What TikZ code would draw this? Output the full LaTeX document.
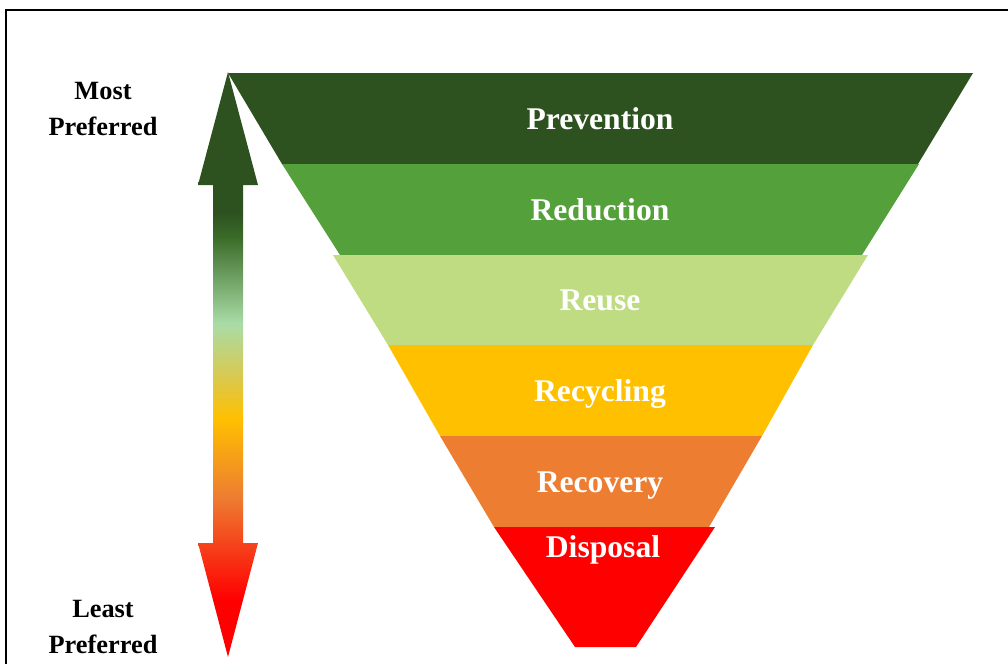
\documentclass[tikz,border=0pt]{standalone}
\usepackage{fontspec}
\setmainfont{Liberation Serif}
\definecolor{prevgreen}{HTML}{2D5220}
\definecolor{redgreen}{HTML}{54A03A}
\definecolor{reusegreen}{HTML}{BFDC83}
\definecolor{recyyellow}{HTML}{FFC000}
\definecolor{recoorange}{HTML}{ED7D31}
\definecolor{dispred}{HTML}{FF0000}
\definecolor{shaftgreen}{HTML}{3B6B28}
\definecolor{palegreen}{HTML}{A9DCA6}
\definecolor{midyellow}{HTML}{DCC84A}
\pgfdeclareverticalshading{prefshade}{100bp}{color(0bp)=(dispred); color(29.9bp)=(dispred); color(38.7bp)=(recoorange); color(45.4bp)=(recyyellow); color(48.7bp)=(midyellow); color(53.5bp)=(palegreen); color(60.9bp)=(shaftgreen); color(62.9bp)=(prevgreen); color(100bp)=(prevgreen)}
\tikzstyle{level}=[anchor=base, text=white, font=\fontsize{18}{22}\selectfont\bfseries]
\tikzstyle{pref}=[align=center, font=\fontsize{15}{21}\selectfont\bfseries]

\begin{document}
\begin{tikzpicture}[x=0.02cm, y=-0.02cm]
    \useasboundingbox (0, 0) rectangle (1008, 664);
    \draw [line width=1.3pt] (6, 664) -- (6, 10) -- (1008, 10);

    % the six levels, top to bottom
    \fill [prevgreen] (228, 73) -- (973, 73) -- (918, 164) -- (282, 164) -- cycle;
    \fill [redgreen] (282, 164) -- (919, 164) -- (862, 255) -- (340, 255) -- cycle;
    \fill [reusegreen] (333, 255) -- (868, 255) -- (813, 345) -- (388, 345) -- cycle;
    \fill [recyyellow] (388, 345) -- (813, 345) -- (762, 436) -- (440, 436) -- cycle;
    \fill [recoorange] (440, 436) -- (762, 436) -- (709, 527) -- (494, 527) -- cycle;
    \fill [dispred] (494, 527) -- (715, 527) -- (636, 647) -- (575, 647) -- cycle;

    \node [level] (prev) at (600, 129) {Prevention};
    \node [level] (redu) at (600, 220) {Reduction};
    \node [level] (reus) at (600, 310) {Reuse};
    \node [level] (recy) at (600, 401) {Recycling};
    \node [level] (reco) at (600, 492) {Recovery};
    \node [level] (disp) at (603, 557) {Disposal};

    % preference arrow
    \shade [shading=prefshade] (228, 72) -- (258, 185) -- (243, 185) -- (243, 543)
        -- (258, 543) -- (228, 657) -- (198, 543) -- (213, 543) -- (213, 185)
        -- (198, 185) -- cycle;

    \node [pref] (most) at (103, 109) {Most\\Preferred};
    \node [pref] (least) at (103, 627) {Least\\Preferred};
\end{tikzpicture}
\end{document}
